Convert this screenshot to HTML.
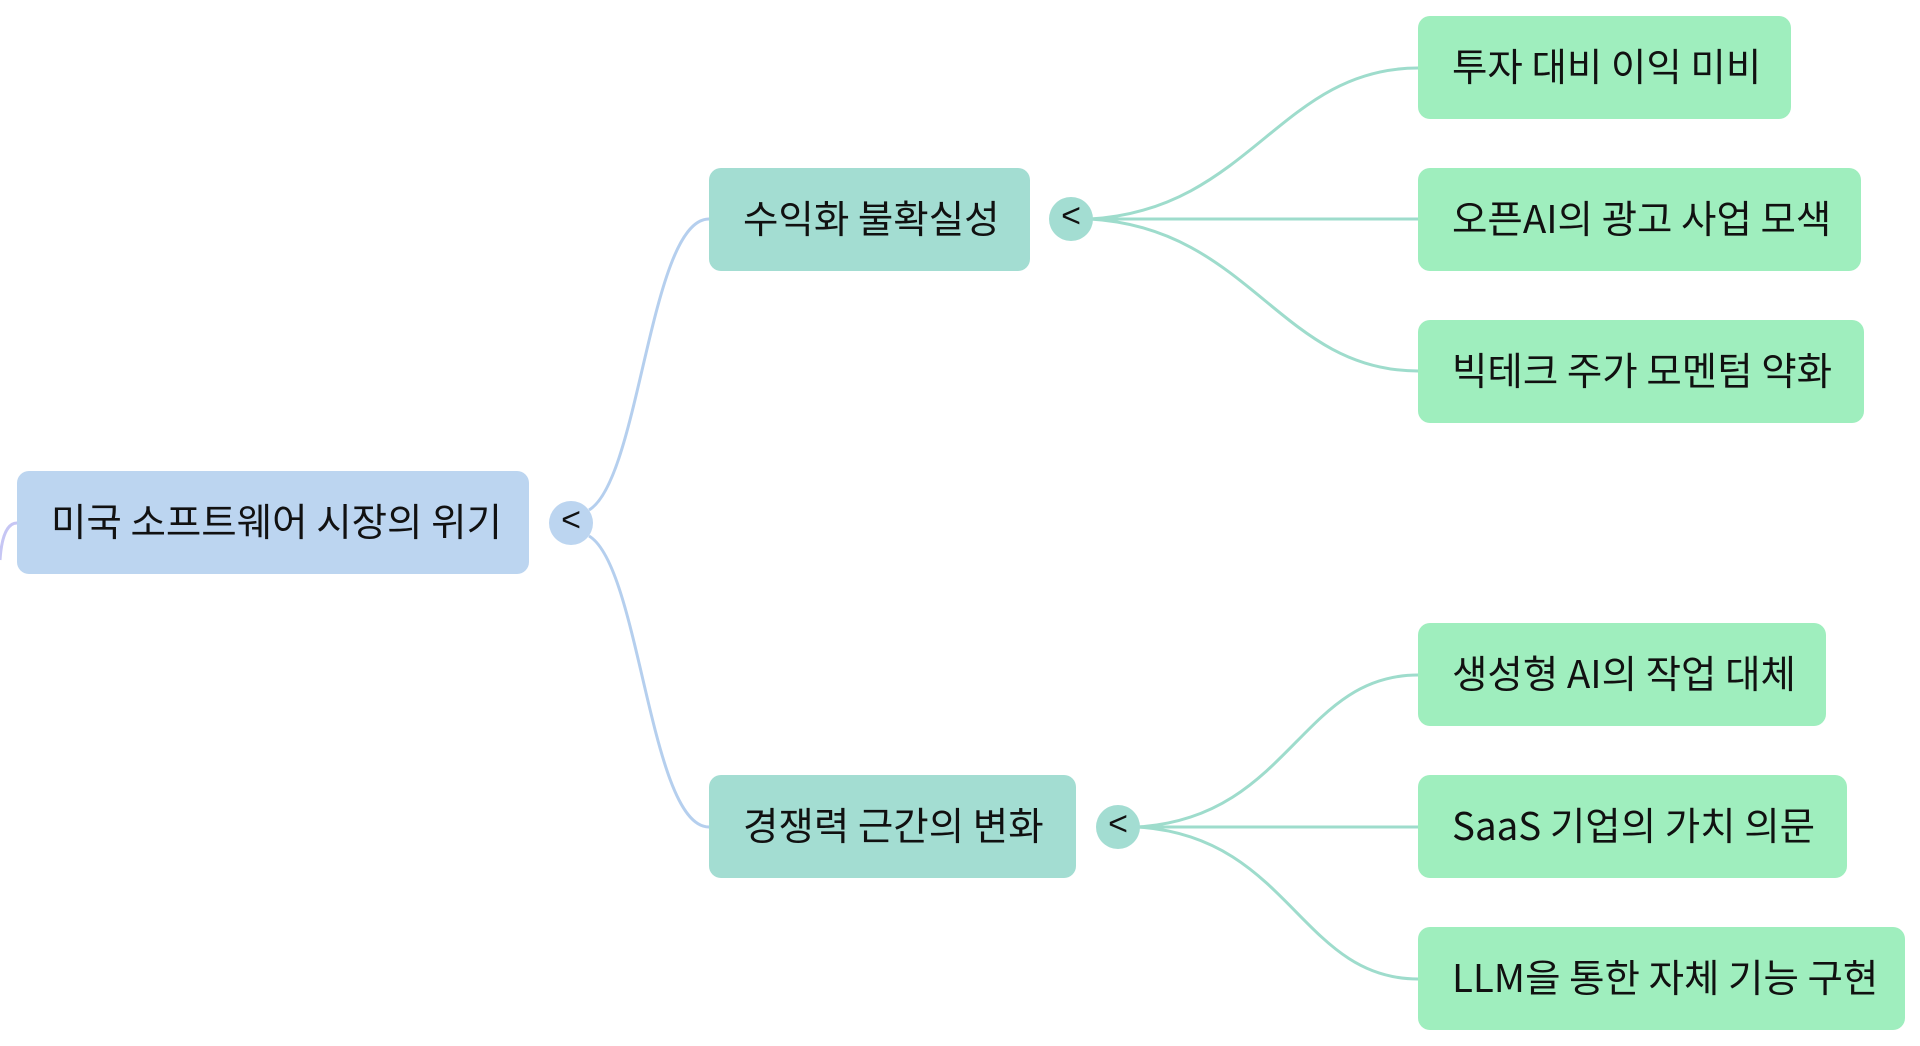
<!DOCTYPE html>
<html><head><meta charset="utf-8"><style>
body{margin:0;width:1920px;height:1046px;background:#fff;overflow:hidden;position:relative;font-family:"Noto Sans CJK KR","Liberation Sans",sans-serif}
.b{position:absolute;border-radius:12px;box-sizing:border-box;padding-left:34px;display:flex;align-items:center;font-size:38.5px;color:#111;line-height:1;padding-bottom:4px}
.c{position:absolute;width:44px;height:44px;border-radius:50%;display:flex;align-items:center;justify-content:center;font-size:34px;color:#111;font-family:"Liberation Sans",sans-serif;padding-bottom:5px;box-sizing:border-box}
</style></head><body>
<svg width="1920" height="1046" style="position:absolute;left:0;top:0" fill="none">
<path d="M0,560 C2,530 10,523 17,523" stroke="#c6c6f4" stroke-width="3"/>
<g stroke="#b5cfee" stroke-width="3">
<path d="M589,510 C640,480 650,219 709,219"/>
<path d="M589,536 C640,566 650,827 709,827"/>
</g>
<g stroke="#9edccc" stroke-width="3">
<path d="M1090,219 C1250,210 1280,68 1418,68"/>
<path d="M1090,219 L1418,219"/>
<path d="M1090,219 C1250,228 1280,371 1418,371"/>
<path d="M1137,827 C1290,818 1300,675 1418,675"/>
<path d="M1137,827 L1418,827"/>
<path d="M1137,827 C1290,836 1300,979 1418,979"/>
</g>
</svg>
<div class="b" style="left:17px;top:471px;width:512px;height:103px;background:#bcd5f0;padding-left:34px">미국 소프트웨어 시장의 위기</div>
<div class="c" style="left:549px;top:501px;background:#bcd5f0">&lt;</div>
<div class="b" style="left:709px;top:168px;width:321px;height:103px;background:#a3ddd2">수익화 불확실성</div>
<div class="c" style="left:1049px;top:197px;background:#a3ddd2">&lt;</div>
<div class="b" style="left:709px;top:775px;width:367px;height:103px;background:#a3ddd2">경쟁력 근간의 변화</div>
<div class="c" style="left:1096px;top:805px;background:#a3ddd2">&lt;</div>
<div class="b" style="left:1418px;top:16px;width:373px;height:103px;background:#9feebe">투자 대비 이익 미비</div>
<div class="b" style="left:1418px;top:168px;width:443px;height:103px;background:#9feebe">오픈AI의 광고 사업 모색</div>
<div class="b" style="left:1418px;top:320px;width:446px;height:103px;background:#9feebe">빅테크 주가 모멘텀 약화</div>
<div class="b" style="left:1418px;top:623px;width:408px;height:103px;background:#9feebe">생성형 AI의 작업 대체</div>
<div class="b" style="left:1418px;top:775px;width:429px;height:103px;background:#9feebe">SaaS 기업의 가치 의문</div>
<div class="b" style="left:1418px;top:927px;width:487px;height:103px;background:#9feebe">LLM을 통한 자체 기능 구현</div>
</body></html>
